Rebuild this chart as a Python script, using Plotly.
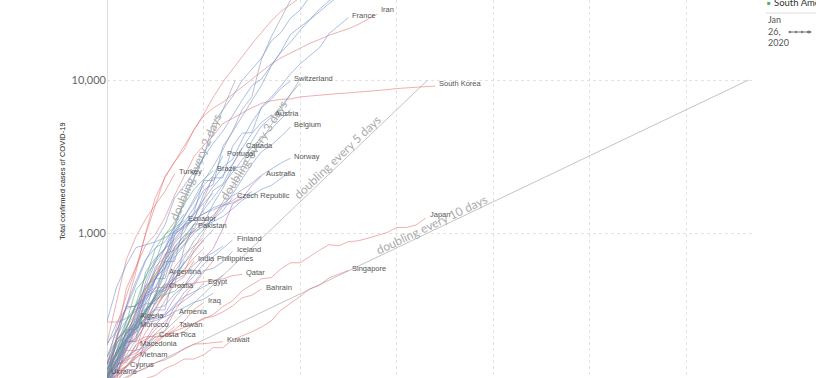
import math
import plotly.graph_objects as go

# ---------------- data (cumulative confirmed cases, by day since 100th case) ----------------
china = [100, 200, 330, 560, 1000, 1700, 2300, 2900, 3700, 4700, 5974, 7711, 9692, 11791, 14380, 17205, 20438, 24324, 28018, 31161, 34546, 37198]
iran = [139, 245, 388, 593, 978, 1501, 2336, 2922, 3513, 4747, 5823, 6566, 7161, 8042, 9000, 10075, 11364, 12729, 13938, 14991, 16169, 17361, 18407, 19644, 20610, 21638, 23049, 24811, 27017]
south_korea = [104, 204, 433, 602, 833, 977, 1261, 1766, 2337, 3150, 3736, 4335, 5186, 5621, 6088, 6593, 7041, 7314, 7478, 7513, 7755, 7869, 7979, 8086, 8162, 8236, 8320, 8413, 8565, 8652, 8799, 8897, 8961, 9037, 9137]
japan = [105, 122, 147, 159, 170, 189, 214, 228, 241, 256, 274, 293, 331, 360, 420, 461, 502, 511, 581, 639, 639, 701, 773, 839, 825, 878, 889, 924, 963, 1007, 1086, 1086, 1128, 1250]
singapore = [102, 106, 108, 110, 112, 117, 130, 138, 150, 150, 160, 178, 178, 200, 212, 226, 243, 266, 313, 345, 385, 432, 455, 509, 540, 570]
bahrain = [110, 110, 195, 195, 210, 211, 214, 214, 228, 256, 278, 285, 305, 334, 377, 392, 430]
kuwait = [100, 104, 112, 123, 130, 142, 148, 159, 176, 188, 189, 191, 195]
qatar = [262, 262, 320, 337, 401, 439, 442, 452, 460, 470, 481, 494, 501, 526, 537]
turkey = [191, 359, 670, 947, 1236, 1529, 1872, 2433]
pakistan = [136, 187, 241, 301, 454, 501, 730, 776, 887, 1080]
india = [114, 137, 151, 173, 223, 283, 360, 468, 519, 657]
philippines = [111, 140, 142, 187, 202, 217, 230, 307, 380, 462, 552, 660]
iraq = [110, 124, 154, 164, 192, 208, 214, 233, 266, 316, 350]
armenia = [110, 115, 136, 160, 194, 235, 265, 300]
taiwan = [100, 108, 135, 153, 169, 195, 215, 245]
vietnam = [113, 123, 134, 155]
cyprus = [116, 124, 135]
malaysia = [129, 149, 197, 238, 428, 566, 673, 790, 900, 1030, 1183, 1306, 1518, 1624, 1796]
israel = [126, 193, 213, 298, 427, 529, 712, 883, 1071, 1238, 1656, 2369]
indonesia = [117, 134, 172, 227, 311, 369, 450, 514, 579, 686, 790]
thailand = [114, 147, 177, 212, 272, 322, 411, 599, 721, 827, 934]
saudi_arabia = [103, 118, 171, 171, 274, 344, 392, 511, 562, 767, 900]

italy = [155, 229, 322, 453, 655, 888, 1128, 1694, 2036, 2502, 3089, 3858, 4636, 5883, 7375, 9172, 10149, 12462, 15113, 17660, 21157, 24747, 27980, 31506, 35713]
spain = [120, 165, 222, 259, 400, 500, 673, 1073, 1695, 2277, 3146, 5232, 6391, 7798, 9942, 11748, 13910, 17963, 20410, 25374, 28603, 35136]
germany = [130, 159, 196, 262, 482, 670, 799, 1040, 1176, 1457, 1908, 2078, 3675, 4585, 5795, 7272, 9257, 12327, 15320, 19848, 22213, 24873, 29056, 32986, 37323]
france = [100, 130, 191, 204, 288, 380, 656, 959, 1136, 1219, 1794, 2293, 2293, 3681, 4496, 4532, 6683, 7715, 9124, 10970, 12758, 14463, 16243, 20123, 22622, 25600]
united_kingdom = [116, 164, 207, 274, 322, 384, 459, 459, 802, 1144, 1145, 1551, 1960, 2642, 2716, 3983, 5018, 5683, 6650, 8077, 9529]
switzerland = [114, 214, 268, 337, 374, 491, 652, 652, 1139, 1359, 2200, 2200, 2700, 3028, 4075, 5294, 6575, 7474, 8795, 9877]
netherlands = [128, 188, 265, 321, 382, 503, 503, 804, 959, 1135, 1413, 1705, 2051, 2460, 2994, 3631, 4204, 4749, 5560, 6412]
austria = [104, 131, 182, 246, 302, 504, 655, 860, 1016, 1332, 1646, 2013, 2388, 2814, 3582, 4474, 5283, 5888]
belgium = [109, 169, 200, 239, 267, 314, 314, 559, 689, 886, 1058, 1243, 1486, 1795, 2257, 2815, 3401, 3743, 4269, 4937]
norway = [108, 147, 176, 205, 400, 598, 702, 996, 1090, 1221, 1333, 1463, 1550, 1746, 1914, 2118, 2385, 2621, 2863, 3084]
sweden = [137, 161, 203, 248, 355, 500, 599, 814, 961, 1022, 1103, 1190, 1279, 1439, 1639, 1763, 1934, 2046, 2286, 2526]
denmark = [264, 444, 617, 804, 836, 875, 933, 1024, 1115, 1225, 1337, 1420, 1514, 1572, 1718, 1862]
portugal = [112, 169, 245, 331, 448, 642, 785, 1020, 1280, 1600, 2060, 2362, 3200]
czech_republic = [116, 141, 189, 253, 298, 396, 464, 694, 833, 995, 1120, 1236, 1394, 1700]
finland = [109, 155, 225, 244, 277, 321, 336, 400, 450, 523, 626, 700, 792, 900]
iceland = [103, 134, 156, 171, 180, 220, 250, 330, 409, 473, 568, 588, 648, 760]
ireland = [129, 169, 223, 292, 557, 683, 785, 906, 1125, 1329, 1564, 1819]
luxembourg = [140, 203, 335, 484, 670, 798, 875, 1099, 1333]
poland = [103, 119, 177, 238, 251, 355, 425, 536, 634, 749, 901, 1051]
greece = [190, 228, 331, 331, 387, 418, 418, 495, 530, 624, 695, 743, 821]
romania = [184, 260, 277, 308, 367, 433, 576, 762, 906]
slovenia = [141, 181, 219, 253, 275, 275, 286, 341, 383, 414, 442, 480, 528]
estonia = [115, 171, 205, 225, 258, 267, 283, 306, 326, 352, 369, 404]
russia = [114, 147, 199, 253, 306, 367, 438, 495, 658]
croatia = [105, 128, 206, 254, 315, 382, 442]
macedonia = [114, 136, 148, 185]
ukraine = [120]

united_states = [118, 149, 217, 262, 402, 518, 583, 959, 1281, 1663, 2179, 2727, 3499, 4632, 6421, 7786, 13680, 19101, 25493, 33276, 43847]
canada = [103, 138, 193, 252, 342, 441, 598, 727, 846, 1048, 1468, 1900, 2091, 2792, 3600]
mexico = [118, 164, 203, 251, 316, 367, 405, 475]
panama = [109, 137, 200, 313, 345, 345, 443, 558]
costa_rica = [113, 117, 134, 158, 177, 210]

brazil = [121, 200, 234, 346, 529, 640, 970, 1178, 1546, 1924, 2247, 2554]
ecuador = [111, 168, 260, 426, 506, 789, 981, 1082, 1211]
argentina = [128, 158, 225, 266, 301, 387, 540]
chile = [155, 201, 238, 342, 434, 537, 632, 746, 922, 1142]
peru = [117, 145, 234, 234, 318, 363, 395, 416, 480]
colombia = [108, 145, 196, 231, 306, 378, 470]

egypt = [126, 166, 196, 196, 256, 285, 294, 327, 366, 402, 470]
algeria = [139, 201, 230, 280]
morocco = [115, 143, 170, 245]
south_africa = [116, 150, 202, 240, 274, 402, 554, 709]

australia = [100, 107, 128, 128, 200, 250, 297, 377, 452, 568, 681, 791, 1071, 1549, 1682, 2044, 2364]

doubling_periods = [2, 3, 5, 10]
doubling_labels = ["doubling every 2 days", "doubling every 3 days", "doubling every 5 days", "doubling every 10 days"]
label_day = [9.45, 15.3, 24.3, 33.9]
label_offset = [3.5, 2, 7, 6]

y_tick_vals = [1000, 10000]
y_tick_text = ["1,000", "10,000"]

countries = [
    ("China", "Asia", china, False), ("Iran", "Asia", iran, True), ("South Korea", "Asia", south_korea, True),
    ("Japan", "Asia", japan, True), ("Singapore", "Asia", singapore, True), ("Bahrain", "Asia", bahrain, True),
    ("Kuwait", "Asia", kuwait, True), ("Qatar", "Asia", qatar, True), ("Turkey", "Asia", turkey, True),
    ("Pakistan", "Asia", pakistan, True), ("India", "Asia", india, True), ("Philippines", "Asia", philippines, True),
    ("Iraq", "Asia", iraq, True), ("Armenia", "Asia", armenia, True), ("Taiwan", "Asia", taiwan, True),
    ("Vietnam", "Asia", vietnam, True), ("Cyprus", "Asia", cyprus, True), ("Malaysia", "Asia", malaysia, False),
    ("Israel", "Asia", israel, False), ("Indonesia", "Asia", indonesia, False), ("Thailand", "Asia", thailand, False),
    ("Saudi Arabia", "Asia", saudi_arabia, False),
    ("Italy", "Europe", italy, False), ("Spain", "Europe", spain, False), ("Germany", "Europe", germany, False),
    ("France", "Europe", france, True), ("United Kingdom", "Europe", united_kingdom, False),
    ("Switzerland", "Europe", switzerland, True), ("Netherlands", "Europe", netherlands, False),
    ("Austria", "Europe", austria, True), ("Belgium", "Europe", belgium, True), ("Norway", "Europe", norway, True),
    ("Sweden", "Europe", sweden, False), ("Denmark", "Europe", denmark, False), ("Portugal", "Europe", portugal, True),
    ("Czech Republic", "Europe", czech_republic, True), ("Finland", "Europe", finland, True),
    ("Iceland", "Europe", iceland, True), ("Ireland", "Europe", ireland, False), ("Luxembourg", "Europe", luxembourg, False),
    ("Poland", "Europe", poland, False), ("Greece", "Europe", greece, False), ("Romania", "Europe", romania, False),
    ("Slovenia", "Europe", slovenia, False), ("Estonia", "Europe", estonia, False), ("Russia", "Europe", russia, False),
    ("Croatia", "Europe", croatia, True), ("Macedonia", "Europe", macedonia, True), ("Ukraine", "Europe", ukraine, True),
    ("United States", "North America", united_states, False), ("Canada", "North America", canada, True),
    ("Mexico", "North America", mexico, False), ("Panama", "North America", panama, False),
    ("Costa Rica", "North America", costa_rica, True),
    ("Brazil", "South America", brazil, True), ("Ecuador", "South America", ecuador, True),
    ("Argentina", "South America", argentina, True), ("Chile", "South America", chile, False),
    ("Peru", "South America", peru, False), ("Colombia", "South America", colombia, False),
    ("Egypt", "Africa", egypt, True), ("Algeria", "Africa", algeria, True), ("Morocco", "Africa", morocco, True),
    ("South Africa", "Africa", south_africa, False),
    ("Australia", "Oceania", australia, True),
]

label_dy = {"Iran": 2, "South Korea": 1, "Japan": 2}
LABEL_LIFT = 2

continent_color = {
    "Asia": "rgba(228,110,110,0.62)",
    "Europe": "rgba(100,135,200,0.60)",
    "North America": "rgba(130,135,175,0.60)",
    "South America": "rgba(80,165,110,0.62)",
    "Africa": "rgba(150,115,175,0.60)",
    "Oceania": "rgba(175,100,175,0.62)",
}

# ---------------- geometry ----------------
W, H = 816, 378
L, R, T, B = 107, 63, 0, 0
DAY_MAX = 66.9
Y_LO, Y_HI = 112.8, 33350


def px(x):
    return (x - L) / (W - L - R)


def py(y):
    return 1 - y / (H - T - B)


fig = go.Figure()

pw = W - L - R
ph = H - T - B
xs_per_day = pw / DAY_MAX
ys_per_dec = ph / (math.log10(Y_HI) - math.log10(Y_LO))
for p, lab, d_lab, off in zip(doubling_periods, doubling_labels, label_day, label_offset):
    d_end = p * math.log2(100)
    fig.add_trace(go.Scatter(x=[0, d_end], y=[100, 100 * 2 ** (d_end / p)], mode="lines",
                             line=dict(color="rgba(195,195,195,1)", width=1), hoverinfo="skip"))
    slope_px = (math.log10(2) / p) * ys_per_dec / xs_per_day
    ang = math.degrees(math.atan(slope_px))
    fig.add_annotation(x=d_lab, y=math.log10(100 * 2 ** (d_lab / p)), text=lab, showarrow=False,
                       textangle=-ang, xshift=-off * math.sin(math.radians(ang)),
                       yshift=off * math.cos(math.radians(ang)),
                       font=dict(family="Lato", size=12, color="#ababab"))

for name, cont, vals, labeled in countries:
    days = list(range(len(vals)))
    fig.add_trace(go.Scatter(x=days, y=vals, mode="lines",
                             line=dict(color=continent_color[cont], width=0.9), hoverinfo="skip"))
    if labeled:
        fig.add_annotation(x=days[-1], y=math.log10(vals[-1]), text=name, showarrow=False,
                           xanchor="left", yanchor="middle", xshift=2,
                           yshift=LABEL_LIFT + label_dy.get(name, 0),
                           font=dict(family="Liberation Sans, Arial", size=7.5, color="#555"))

fig.add_annotation(xref="paper", yref="paper", x=px(62), y=py(181), text="Total confirmed cases of COVID-19",
                   textangle=-90, showarrow=False, xanchor="center", yanchor="middle",
                   font=dict(family="Liberation Sans, Arial", size=7.5, color="#222"))

fig.add_annotation(xref="paper", yref="paper", x=px(765), y=py(3), text="■", showarrow=False,
                   xanchor="left", yanchor="middle", font=dict(size=6, color="#4cae6b"))
fig.add_annotation(xref="paper", yref="paper", x=px(772), y=py(3), text="South America", showarrow=False,
                   xanchor="left", yanchor="middle", font=dict(family="Lato", size=9.5, color="#333"))
fig.add_shape(type="line", xref="paper", yref="paper", x0=px(766), x1=px(820), y0=py(13), y1=py(13),
              line=dict(color="#dcdcdc", width=1))
fig.add_annotation(xref="paper", yref="paper", x=px(766), y=py(31), text="Jan<br>26,<br>2020", showarrow=False,
                   xanchor="left", yanchor="middle", align="left", font=dict(family="Lato", size=9, color="#555"))
fig.add_annotation(xref="paper", yref="paper", x=px(814), y=py(31), text="Mar<br>25,<br>2020", showarrow=False,
                   xanchor="left", yanchor="middle", align="left", font=dict(family="Lato", size=9, color="#555"))
fig.add_annotation(xref="paper", yref="paper", x=px(812), y=py(32), ax=-25, ay=0, text="", showarrow=True,
                   arrowhead=2, arrowsize=0.7, arrowwidth=1, arrowcolor="#777")
for cx in [790, 796, 802, 808]:
    fig.add_shape(type="circle", xref="paper", yref="paper", x0=px(cx - 1), x1=px(cx + 1), y0=py(33), y1=py(31),
                  line=dict(color="#777", width=0.5), fillcolor="#777")

fig.update_layout(
    width=W, height=H, autosize=False, showlegend=False,
    margin=dict(l=L, r=R, t=T, b=B, pad=0),
    paper_bgcolor="white", plot_bgcolor="white",
    xaxis=dict(range=[0, DAY_MAX], dtick=10, showticklabels=False, ticks="", showgrid=True,
               gridcolor="#e2e2e2", griddash="dot", gridwidth=1, zeroline=True, zerolinecolor="#dedede",
               zerolinewidth=1, showline=False),
    yaxis=dict(type="log", range=[math.log10(Y_LO), math.log10(Y_HI)], tickvals=y_tick_vals, ticktext=y_tick_text,
               ticks="", showgrid=True, gridcolor="#e2e2e2", griddash="dot", gridwidth=1, zeroline=False,
               showline=False, tickfont=dict(family="Lato", size=11, color="#666")),
)

fig.write_html("out.html", config={"displayModeBar": False},
               post_script="document.body.style.margin='0';document.body.style.overflow='hidden';")
